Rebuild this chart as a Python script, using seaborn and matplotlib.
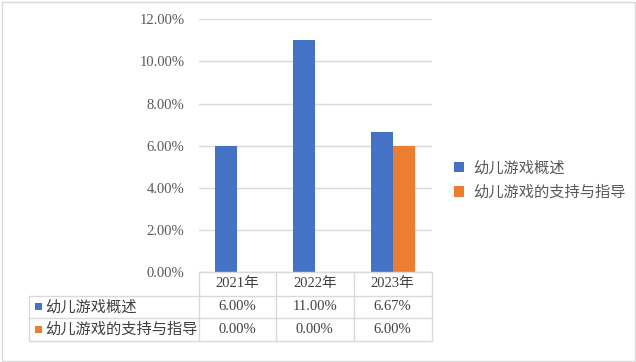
import matplotlib
matplotlib.use("Agg")
import matplotlib.pyplot as plt
import seaborn as sns
import pandas as pd
from matplotlib.patches import Patch, Rectangle
from matplotlib.lines import Line2D

years = ["2021年", "2022年", "2023年"]
series_names = ["幼儿游戏概述", "幼儿游戏的支持与指导"]
overview = [0.06, 0.11, 0.0667]
support = [0.00, 0.00, 0.06]
yticks = [0.0, 0.02, 0.04, 0.06, 0.08, 0.10, 0.12]
colors = ["#4472C4", "#ED7D31"]

sns.set_theme(style="white")
plt.rcParams["font.family"] = ["Liberation Serif", "Noto Sans CJK SC", "DejaVu Sans"]

df = pd.DataFrame({
    "year": years * 2,
    "series": [series_names[0]] * 3 + [series_names[1]] * 3,
    "value": overview + support,
})

W, H = 636, 362
fig = plt.figure(figsize=(W / 100, H / 100), dpi=100)

def fx(px):
    return px / W

def fy(py):
    return 1 - py / H

x0, x1 = 198.5, 431.5
ytop, ybot = 19.3, 272.3
ax = fig.add_axes([fx(x0), fy(ybot), fx(x1) - fx(x0), fy(ytop) - fy(ybot)])

sns.barplot(data=df, x="year", y="value", hue="series", palette=colors,
            width=0.57, legend=False, ax=ax, saturation=1, linewidth=0)
ax.set_ylim(0, 0.12)
ax.set_xlim(-0.5, 2.5)
ax.set_yticks(yticks)
ax.yaxis.grid(True, color="#d9d9d9", linewidth=1)
ax.set_axisbelow(True)
for s in ax.spines.values():
    s.set_visible(False)
ax.set_xticks([])
ax.set_xlabel("")
ax.set_ylabel("")
ax.tick_params(axis="y", length=0, pad=10)
ax.set_yticklabels([f"{v*100:.2f}%" for v in yticks], color="#595959",
                   fontsize=10.5, family="Liberation Serif")

# data table
line_c = "#d9d9d9"
rows_y = [272.3, 295.5, 318.3, 340.7]
cols_x = [198.5, 276.0, 353.5, 431.5]
lab_x0 = 29.5

def hline(xa, xb, y):
    fig.add_artist(Line2D([fx(xa), fx(xb)], [fy(y), fy(y)], color=line_c, lw=1))

def vline(x, ya, yb):
    fig.add_artist(Line2D([fx(x), fx(x)], [fy(ya), fy(yb)], color=line_c, lw=1))

hline(cols_x[0], cols_x[-1], rows_y[0])
for y in rows_y[1:]:
    hline(lab_x0, cols_x[-1], y)
for x in cols_x:
    vline(x, rows_y[0], rows_y[-1])
vline(lab_x0, rows_y[1], rows_y[-1])

txt_c = "#404040"
for i, yr in enumerate(years):
    cx = (cols_x[i] + cols_x[i + 1]) / 2
    fig.text(fx(cx), fy((rows_y[0] + rows_y[1]) / 2), yr, ha="center", va="center",
             fontsize=10.5, color=txt_c,
             family=["Liberation Serif", "Noto Sans CJK SC"])
    for r, vals in enumerate([overview, support]):
        fig.text(fx(cx), fy((rows_y[r + 1] + rows_y[r + 2]) / 2), f"{vals[i]*100:.2f}%",
                 ha="center", va="center", fontsize=10.5, color=txt_c,
                 family="Liberation Serif")

for r, name in enumerate(series_names):
    cy = (rows_y[r + 1] + rows_y[r + 2]) / 2
    fig.add_artist(Rectangle((fx(35), fy(cy + 3.5)), fx(7), 7 / H, color=colors[r], lw=0))
    fig.text(fx(45), fy(cy), name, ha="left", va="center", fontsize=11,
             color=txt_c, family="Noto Sans CJK SC")

# legend
handles = [Patch(facecolor=c, edgecolor="none") for c in colors]
fig.legend(handles, series_names, loc="center left",
           bbox_to_anchor=(fx(454), fy(180)), frameon=False,
           borderpad=0, borderaxespad=0,
           prop={"family": "Noto Sans CJK SC", "size": 11},
           labelcolor="#595959", handlelength=0.65, handleheight=0.65,
           handletextpad=0.6, labelspacing=0.5)

# outer border
fig.add_artist(Rectangle((fx(1.5), fy(360.5)), fx(633), 359 / H, fill=False,
                         edgecolor="#d9d9d9", lw=1))

fig.savefig("out.png", dpi=100)
